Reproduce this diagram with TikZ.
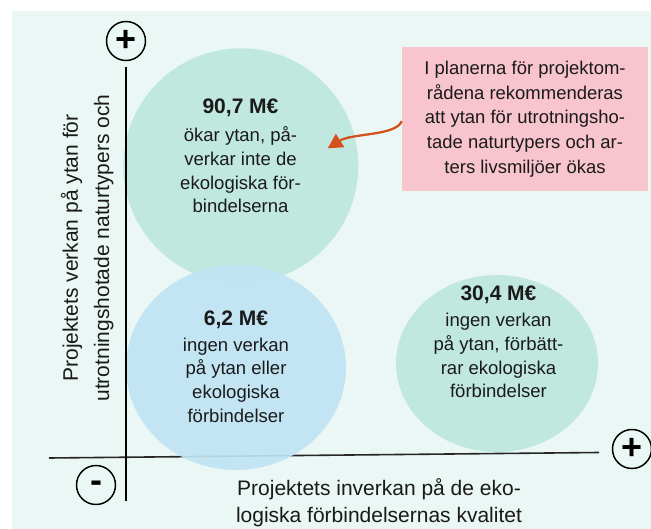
\documentclass[tikz,border=0pt]{standalone}
\usepackage{fontspec}
\setmainfont{Liberation Sans}
\usetikzlibrary{arrows.meta}

\definecolor{bgmint}{RGB}{234,247,244}
\definecolor{bubgreen}{RGB}{193,232,223}
\definecolor{bubblue}{RGB}{192,228,243}
\definecolor{notepink}{RGB}{248,197,207}
\definecolor{notearrow}{RGB}{212,80,28}
\definecolor{inktext}{RGB}{26,26,26}

\begin{document}
\begin{tikzpicture}[x=0.75pt,y=0.75pt,yscale=-1,xscale=1,
  every node/.style={text=inktext,inner sep=0.75pt},
  value/.style={font=\bfseries\fontsize{15.75}{18}\selectfont},
  bubtext/.style={align=center,font=\fontsize{13.9}{17.8}\selectfont},
  axistext/.style={align=center,font=\fontsize{15.75}{20}\selectfont},
  sign/.style={draw=black,circle,line width=1.1pt,minimum size=29.25pt,inner sep=0pt,text=black,font=\bfseries\fontsize{27}{27}\selectfont},
  axisline/.style={draw=black!85,line width=1.2pt}]
\useasboundingbox (0,0) rectangle (651,529);

%Shape: Rectangle
\fill [bgmint] (12,11) rectangle (651,529);
%Shape: Circle
\fill [bubgreen] (240.8,165.8) circle [radius=117.5];
%Shape: Ellipse
\fill [bubgreen] (497,363.5) ellipse [x radius=101,y radius=88.5];
%Shape: Line
\draw [axisline] (49,458) -- (599,452.5);
%Shape: Ellipse
\fill [bubblue,fill opacity=0.92] (236,367.5) ellipse [x radius=110,y radius=102.5];
%Shape: Line
\draw [axisline,draw=black] (126,67) -- (126,501);

% Text Node
\draw (240.5,108.2) node [value] (topval) {90,7 M€};
% Text Node
\draw (240.5,170) node [bubtext] (toptxt) {ökar ytan, på-\\verkar inte de\\ekologiska för-\\bindelserna};
% Text Node
\draw (236,319.8) node [value] (leftval) {6,2 M€};
% Text Node
\draw (236,380.2) node [bubtext] (lefttxt) {ingen verkan\\på ytan eller\\ekologiska\\förbindelser};
% Text Node
\draw (498.5,294.8) node [value] (rightval) {30,4 M€};
% Text Node
\draw (498.5,355.6) node [bubtext] (righttxt) {ingen verkan\\på ytan, förbätt-\\rar ekologiska\\förbindelser};

% Text Node
\draw (525,119) node [fill=notepink,minimum width=184.5pt,minimum height=108pt,align=center,font=\fontsize{13.85}{18.56}\selectfont] (note) {I planerna för projektom-\\rådena rekommenderas\\att ytan för utrotningsho-\\tade naturtypers och ar-\\ters livsmiljöer ökas};
\coordinate (tip) at (327.7,148.3);
\draw [notearrow,line width=1.7pt,-{Triangle[length=11pt,width=11.5pt]}] (note.181) .. controls (396,136) and (352,133) .. (tip);

% Text Node
\draw (87.2,248) node [axistext,rotate=90,font=\fontsize{15.75}{23.3}\selectfont] (ylabel) {Projektets verkan på ytan för\\utrotningshotade naturtypers och};
% Text Node
\draw (379,502.9) node [axistext] (xlabel) {Projektets inverkan på de eko-\\logiska förbindelsernas kvalitet};

% Text Node
\draw (126,41) node [sign,text height=16.1pt,text depth=-3.1pt] (yplus) {+};
% Text Node
\draw (632,449) node [sign,text height=16.1pt,text depth=-3.1pt] (xplus) {+};
% Text Node
\draw (96,485) node [sign,text height=11pt,text depth=-6.5pt] (minus) {-};

\end{tikzpicture}
\end{document}
